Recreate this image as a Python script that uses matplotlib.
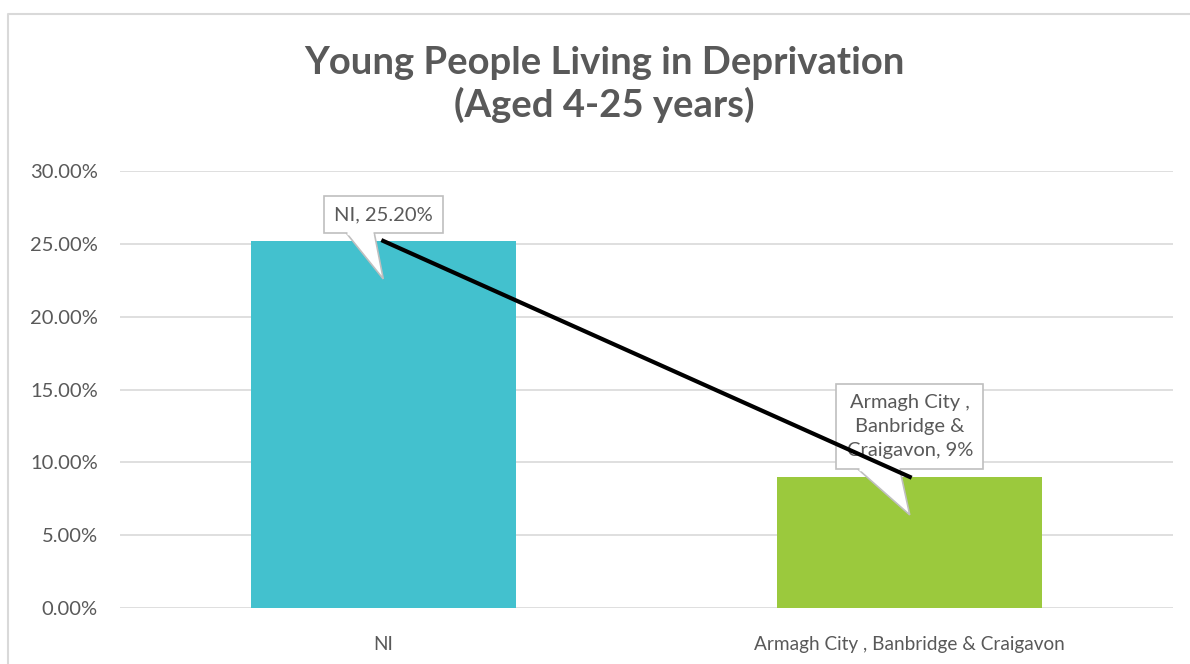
import numpy as np
import matplotlib.pyplot as plt
from matplotlib.patches import Polygon
from matplotlib.lines import Line2D
from matplotlib.transforms import Affine2D

plt.rcParams['font.family'] = ['Lato', 'DejaVu Sans']

categories = ["NI", "Armagh City , Banbridge & Craigavon"]
values = [0.252, 0.09]
callout_texts = ["NI, 25.20%", "Armagh City ,\nBanbridge &\nCraigavon, 9%"]
bar_colors = ['#43C1CE', '#9BC93D']
yticks = [0, 0.05, 0.10, 0.15, 0.20, 0.25, 0.30]

W, H = 1190, 664
fig = plt.figure(figsize=(W / 100, H / 100), dpi=100)
ax = fig.add_axes([120 / W, 56 / H, 1053 / W, 437 / H])

x = np.arange(len(categories))
ax.bar(x, values, width=0.503, color=bar_colors, zorder=2)
ax.plot(x, values, color='black', lw=3, zorder=6)

ax.set_xlim(-0.5, len(categories) - 0.5)
ax.set_ylim(0, 0.30)
ax.set_yticks(yticks)
ax.set_yticklabels([f"{v * 100:.2f}%" for v in yticks])
ax.set_xticks(x)
ax.set_xticklabels(categories)
ax.tick_params(axis='y', length=0, labelsize=14.5, colors='#595959', pad=16)
ax.tick_params(axis='x', length=0, labelsize=13.7, colors='#595959', pad=20)
for s in ax.spines.values():
    s.set_visible(False)
ax.grid(axis='y', color='#D9D9D9', lw=1.2, zorder=0)
ax.set_axisbelow(True)

fig.text(0.508, 1 - 63 / H, "Young People Living in Deprivation", ha='center', va='center',
         fontsize=27.5, fontweight='bold', color='#595959')
fig.text(0.508, 1 - 105 / H, "(Aged 4-25 years)", ha='center', va='center',
         fontsize=27.5, fontweight='bold', color='#595959')

# callouts: box above point, tail pointing below the point (pixel offsets)
tails = [(-37, -9), (-52, -10)]
for i, (xi, v) in enumerate(zip(x, values)):
    px, py = ax.transData.transform((xi, v))
    bl, br = tails[i]
    tail = Polygon([(bl, 8), (0, -38), (br, 8)], closed=False, facecolor='white',
                   edgecolor='#BFBFBF', lw=1.2, zorder=4,
                   transform=Affine2D().translate(px, py))
    ax.add_patch(tail)
    ax.annotate(callout_texts[i], (xi, v), xytext=(0, 18), textcoords='offset pixels',
                ha='center', va='bottom', fontsize=14.5, color='#595959',
                linespacing=1.5, multialignment='center', zorder=5,
                bbox=dict(boxstyle='square,pad=0.5', fc='white', ec='#BFBFBF', lw=1.2))
    # cover the box edge where the tail joins
    cover = Polygon([(bl + 1.2, 8), (br - 1.2, 8)], closed=False, edgecolor='white',
                    lw=2.5, zorder=5.5, transform=Affine2D().translate(px, py))
    ax.add_patch(cover)

# chart border (left and top)
fig.add_artist(Line2D([7.5 / W, 7.5 / W, 1], [0, 1 - 13.5 / H, 1 - 13.5 / H],
                      color='#D9D9D9', lw=1.5))

fig.savefig('out.png', dpi=100)
